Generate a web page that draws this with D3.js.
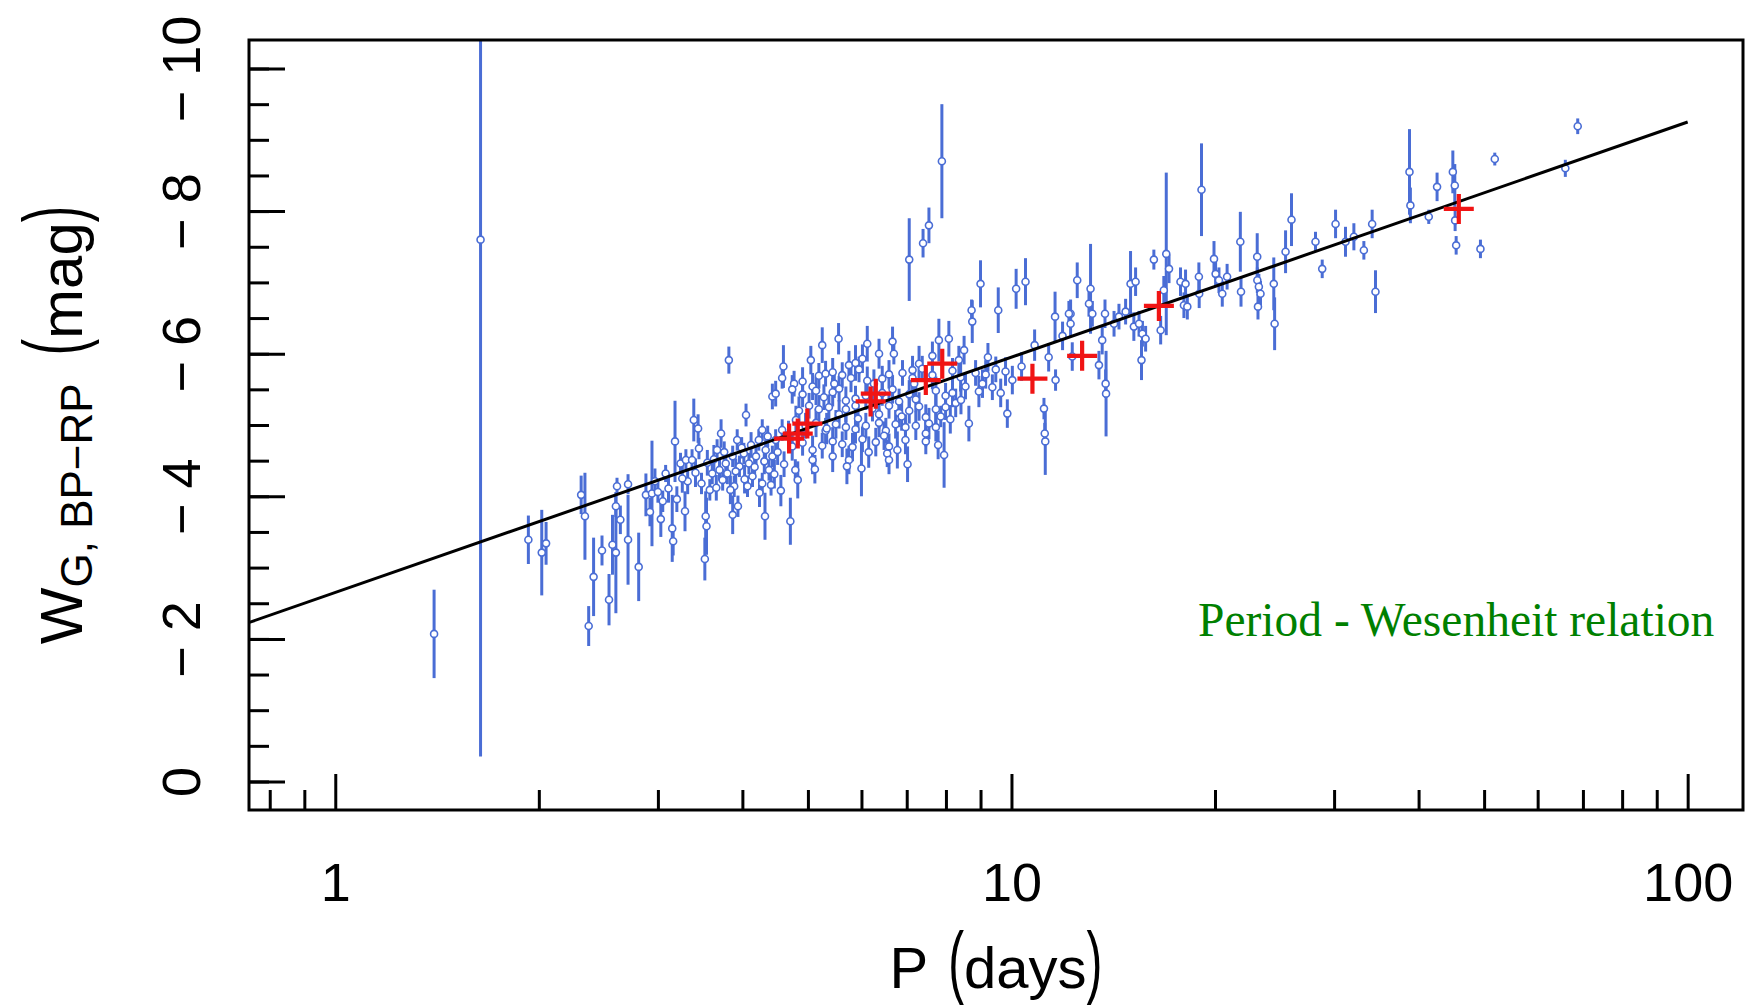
<!DOCTYPE html>
<html>
<head>
<meta charset="utf-8">
<script src="https://cdn.jsdelivr.net/npm/d3@7"></script>
<style>
  body { margin: 0; background: #fff; }
  svg { display: block; }
</style>
</head>
<body>
<svg id="chart"></svg>
<script>
// Cepheids: [period (days), W_G,BP-RP (mag), error (mag)]
const cepheids = [
  [1.40, -2.07, 0.62], [1.64, -7.60, 7.25],
  [1.93, -3.39, 0.34], [2.02, -3.21, 0.60], [2.05, -3.34, 0.30], [2.31, -4.02, 0.27],
  [2.34, -3.72, 0.61], [2.41, -2.87, 0.55], [2.37, -2.18, 0.28], [2.48, -3.24, 0.21],
  [2.54, -2.55, 0.36], [2.57, -3.32, 0.42], [2.60, -3.21, 0.85], [2.60, -3.86, 0.15],
  [2.61, -4.14, 0.12], [2.64, -3.67, 0.20], [2.71, -3.39, 0.63], [2.71, -4.17, 0.14],
  [2.81, -3.01, 0.48], [2.88, -4.02, 0.30], [2.94, -4.04, 0.74], [3.00, -4.06, 0.15],
  [3.05, -3.93, 0.15], [3.08, -4.32, 0.12], [3.15, -3.55, 0.47], [3.16, -3.37, 0.20],
  [3.18, -4.77, 0.57], [3.24, -4.46, 0.15], [3.30, -4.51, 0.15], [3.29, -3.79, 0.28],
  [3.39, -5.07, 0.30], [3.44, -4.95, 0.20], [3.45, -4.67, 0.15], [3.37, -4.51, 0.15],
  [3.53, -3.72, 0.35], [3.54, -3.58, 0.40], [3.52, -3.12, 0.30], [3.58, -4.09, 0.15],
  [3.67, -4.65, 0.15], [3.72, -4.88, 0.20], [3.61, -4.32, 0.15], [3.70, -4.37, 0.15],
  [3.74, -4.23, 0.15], [3.80, -4.32, 0.15], [3.87, -4.56, 0.15], [3.89, -4.14, 0.15],
  [3.93, -4.79, 0.15], [3.87, -3.74, 0.27], [3.94, -3.86, 0.15], [4.05, -5.14, 0.16],
  [4.02, -4.60, 0.15], [4.09, -4.46, 0.15], [4.14, -4.28, 0.15], [4.19, -4.56, 0.15],
  [4.23, -4.79, 0.15], [4.28, -4.93, 0.15], [4.33, -4.65, 0.15], [4.38, -4.37, 0.15],
  [4.32, -3.72, 0.33], [4.41, -4.16, 0.15], [4.43, -5.40, 0.18], [4.48, -5.44, 0.18],
  [4.71, -3.65, 0.33], [4.58, -4.93, 0.15], [3.82, -5.91, 0.19],
  [3.78, -4.46, 0.15], [3.96, -4.42, 0.15], [4.07, -4.14, 0.15], [4.28, -4.18, 0.15],
  [4.48, -4.79, 0.15], [4.79, -4.37, 0.15], [4.43, -4.56, 0.15],
  [3.32, -4.21, 0.18], [3.41, -4.33, 0.20], [3.48, -4.18, 0.15], [3.55, -4.47, 0.18],
  [3.63, -4.52, 0.20], [3.66, -4.12, 0.18], [3.76, -4.62, 0.15], [3.84, -4.09, 0.20],
  [3.91, -4.35, 0.18], [3.99, -4.68, 0.15], [4.03, -4.24, 0.20], [4.12, -4.72, 0.18],
  [4.17, -4.41, 0.15], [4.24, -4.05, 0.20], [4.31, -4.49, 0.18], [4.36, -4.84, 0.15],
  [4.46, -4.31, 0.20], [4.51, -4.62, 0.18], [4.56, -4.08, 0.22], [4.61, -4.45, 0.18],
  [4.68, -4.86, 0.20], [2.92, -3.78, 0.20], [2.97, -4.21, 0.18], [3.03, -3.68, 0.25],
  [3.11, -4.11, 0.20], [3.20, -3.96, 0.18], [3.26, -4.25, 0.20],
  [7.06, -7.32, 0.58], [7.40, -7.55, 0.20], [7.55, -7.80, 0.25], [7.89, -8.70, 0.80],
  [5.25, -6.12, 0.25], [5.55, -6.21, 0.22], [6.12, -6.14, 0.25], [6.37, -6.00, 0.21],
  [6.67, -6.17, 0.21], [6.70, -6.00, 0.15], [9.00, -6.98, 0.33], [8.73, -6.61, 0.15],
  [8.75, -6.45, 0.30], [9.56, -6.61, 0.32], [10.16, -6.91, 0.28], [10.49, -7.01, 0.33],
  [11.60, -6.52, 0.35], [12.23, -6.56, 0.20], [12.51, -7.03, 0.25], [4.58, -5.66, 0.15],
  [4.60, -5.82, 0.30], [4.83, -4.23, 0.26], [5.08, -5.54, 0.19], [6.00, -4.39, 0.39],
  [6.55, -4.60, 0.19], [6.78, -4.65, 0.26], [7.95, -4.58, 0.46], [7.86, -5.12, 0.15],
  [8.65, -5.02, 0.25], [9.86, -5.16, 0.20], [11.17, -5.23, 0.15], [11.20, -4.88, 0.15],
  [11.22, -4.77, 0.47], [11.62, -5.63, 0.15], [12.30, -5.96, 0.20],
  [5.05, -5.91, 0.20], [5.75, -5.84, 0.20], [5.88, -5.87, 0.25], [6.02, -5.93, 0.20],
  [7.14, -5.77, 0.20], [7.30, -5.86, 0.25], [7.64, -5.97, 0.20], [7.81, -6.19, 0.30],
  [8.08, -6.21, 0.25], [8.36, -5.91, 0.20], [8.51, -6.05, 0.20],
  [4.77, -5.58, 0.18], [4.91, -5.61, 0.20], [5.19, -5.69, 0.18],
  [5.31, -5.72, 0.18], [5.44, -5.74, 0.20], [5.62, -5.70, 0.18], [5.79, -5.66, 0.20],
  [5.95, -5.78, 0.18], [6.12, -5.62, 0.20], [6.44, -5.65, 0.18], [6.59, -5.71, 0.20],
  [6.90, -5.73, 0.18], [7.14, -5.66, 0.20], [7.38, -5.79, 0.18], [7.64, -5.70, 0.20],
  [8.18, -5.76, 0.18], [8.41, -5.67, 0.20], [8.85, -5.73, 0.18], [9.16, -5.71, 0.20],
  [9.48, -5.78, 0.18], [9.80, -5.75, 0.20],
  [4.74, -5.50, 0.20], [4.91, -5.43, 0.18], [5.14, -5.48, 0.20],
  [5.28, -5.39, 0.18], [5.44, -5.46, 0.20], [5.56, -5.51, 0.18], [5.69, -5.34, 0.20],
  [5.88, -5.37, 0.18], [6.09, -5.41, 0.20], [6.44, -5.45, 0.18], [6.67, -5.50, 0.20],
  [6.82, -5.33, 0.18], [7.06, -5.43, 0.20], [7.22, -5.36, 0.18], [7.73, -5.48, 0.20],
  [7.99, -5.41, 0.18], [8.18, -5.45, 0.20], [8.55, -5.54, 0.18], [9.06, -5.58, 0.20],
  [9.37, -5.53, 0.18], [10.03, -5.63, 0.20],
  [4.85, -5.20, 0.20], [5.02, -5.27, 0.18], [5.19, -5.22, 0.20],
  [5.37, -5.25, 0.18], [5.56, -5.15, 0.20], [5.69, -5.22, 0.18], [5.88, -5.27, 0.20],
  [6.23, -5.23, 0.18], [6.37, -5.15, 0.20], [6.59, -5.27, 0.18], [6.82, -5.17, 0.20],
  [7.06, -5.20, 0.18], [7.30, -5.26, 0.20], [7.47, -5.11, 0.18], [7.73, -5.22, 0.20],
  [7.99, -5.25, 0.18], [8.27, -5.31, 0.20],
  [4.80, -5.07, 0.20], [4.96, -4.99, 0.18], [5.14, -5.03, 0.20],
  [5.31, -4.92, 0.18], [5.50, -5.01, 0.20], [5.69, -4.97, 0.18], [5.88, -4.94, 0.20],
  [6.09, -4.99, 0.18], [6.37, -5.03, 0.20], [6.52, -4.92, 0.18], [6.74, -5.01, 0.20],
  [6.97, -4.97, 0.18], [7.22, -4.99, 0.20], [7.47, -4.88, 0.18], [7.73, -4.97, 0.20],
  [4.74, -4.70, 0.20], [4.91, -4.75, 0.18], [5.08, -4.65, 0.20], [5.25, -4.71, 0.18],
  [5.44, -4.77, 0.20], [5.62, -4.73, 0.18], [5.82, -4.69, 0.20], [6.02, -4.80, 0.18],
  [6.30, -4.76, 0.20], [6.59, -4.70, 0.18], [6.97, -4.79, 0.20], [7.47, -4.77, 0.18],
  [5.08, -4.51, 0.20], [5.44, -4.56, 0.22], [5.75, -4.51, 0.20], [6.59, -4.51, 0.20],
  [5.12, -4.38, 0.20], [5.33, -4.95, 0.22], [5.47, -5.58, 0.20], [5.71, -4.42, 0.25],
  [5.93, -5.09, 0.20], [6.15, -4.62, 0.22], [6.26, -5.58, 0.20], [6.48, -4.85, 0.20],
  [6.88, -5.12, 0.20], [7.02, -4.45, 0.25], [7.18, -5.58, 0.20], [7.55, -5.02, 0.22],
  [7.79, -4.72, 0.20], [8.12, -5.08, 0.20], [8.42, -5.35, 0.20], [8.95, -5.47, 0.22],
  [9.23, -5.95, 0.20], [9.64, -5.45, 0.20], [10.35, -5.82, 0.20], [10.82, -6.12, 0.22],
  [11.35, -5.95, 0.20], [11.90, -6.25, 0.20],
  [12.16, -6.56, 0.18], [12.23, -6.42, 0.18], [13.09, -6.91, 0.63], [13.02, -6.70, 0.18],
  [13.17, -6.56, 0.18], [13.47, -5.84, 0.20], [13.78, -5.58, 0.20], [13.80, -5.44, 0.60],
  [13.62, -6.19, 0.20], [13.75, -6.56, 0.20], [14.18, -6.42, 0.18], [14.42, -6.52, 0.18],
  [14.75, -6.59, 0.18], [15.00, -6.98, 0.46], [15.26, -7.01, 0.20], [15.17, -6.38, 0.20],
  [15.44, -6.42, 0.18], [15.62, -6.28, 0.18], [15.79, -6.21, 0.18], [15.57, -5.91, 0.28],
  [16.24, -7.32, 0.14], [16.62, -6.33, 0.20], [16.94, -7.40, 1.14], [17.10, -7.19, 0.20],
  [16.80, -6.89, 0.20], [17.78, -7.01, 0.20], [18.09, -6.98, 0.20], [17.99, -6.68, 0.18],
  [18.20, -6.66, 0.18], [19.10, -8.30, 0.65], [18.93, -7.08, 0.20], [18.95, -6.84, 0.20],
  [19.93, -7.33, 0.25], [20.04, -7.12, 0.18], [20.27, -7.03, 0.18], [20.50, -6.84, 0.18],
  [20.84, -7.08, 0.18], [21.80, -7.57, 0.42], [21.85, -6.87, 0.21], [23.09, -7.36, 0.33],
  [23.10, -7.03, 0.18], [23.22, -6.94, 0.18], [23.35, -6.84, 0.18], [23.15, -6.66, 0.18],
  [24.43, -6.98, 0.37], [24.50, -6.42, 0.37], [25.43, -7.43, 0.30], [25.95, -7.88, 0.37],
  [28.16, -7.57, 0.14], [28.81, -7.19, 0.13], [30.15, -7.82, 0.20], [31.19, -7.57, 0.21],
  [32.09, -7.64, 0.19], [33.20, -7.45, 0.13], [34.15, -7.82, 0.20], [34.54, -6.87, 0.30],
  [38.78, -8.55, 0.60], [38.90, -8.08, 0.25], [41.41, -7.92, 0.10], [42.60, -8.34, 0.20],
  [44.95, -8.55, 0.30], [45.25, -8.36, 0.30], [45.30, -7.87, 0.15], [45.46, -7.52, 0.13],
  [49.38, -7.47, 0.13], [51.85, -8.73, 0.09], [65.93, -8.60, 0.12], [68.77, -9.19, 0.11]
];

// red crosses: [period (days), W (mag)]
const redCrosses = [
  [4.69, -4.81], [4.83, -4.88], [4.99, -5.02], [6.19, -5.33], [6.30, -5.44],
  [7.47, -5.63], [7.90, -5.86], [10.74, -5.65], [12.72, -5.97], [16.52, -6.67], [45.87, -8.03]
];

// fitted PW relation, end points
const fitP = [0.7, 100];
const fitW = [-2.14, -9.25];

const xLim = [0.9, 100];
const yLim = [0, -10];
const xMajorTicks = [1, 10, 100];
const xMinorTicks = [0.8, 0.9, 2, 3, 4, 5, 6, 7, 8, 9, 20, 30, 40, 50, 60, 70, 80, 90];
const yMajorTicks = [0, -2, -4, -6, -8, -10];
const yMinorTicks = d3.range(0, -10.5, -0.5);

const width = 1745, height = 1007;
const frame = { left: 249, top: 40, right: 1743, bottom: 810 };
const sans = "'Liberation Sans', Arial, Helvetica, sans-serif";
const blue = "#4a6dd5";

const svg = d3.select("#chart")
    .attr("width", width)
    .attr("height", height);

svg.append("rect")
    .attr("width", width)
    .attr("height", height)
    .attr("fill", "#fff");

// R style 4% axis extension
const lx0 = Math.log10(xLim[0]), lx1 = Math.log10(xLim[1]);
const padX = (lx1 - lx0) * 0.04;
const xScale = d3.scaleLog()
    .domain([Math.pow(10, lx0 - padX), Math.pow(10, lx1 + padX)])
    .range([frame.left, frame.right]);

const padY = (yLim[0] - yLim[1]) * 0.04;
const yScale = d3.scaleLinear()
    .domain([yLim[0] + padY, yLim[1] - padY])
    .range([frame.bottom, frame.top]);

svg.append("clipPath")
    .attr("id", "plotClip")
    .append("rect")
    .attr("x", frame.left)
    .attr("y", frame.top)
    .attr("width", frame.right - frame.left)
    .attr("height", frame.bottom - frame.top);

const plot = svg.append("g").attr("clip-path", "url(#plotClip)");

// error bars
plot.selectAll(".ebar")
    .data(cepheids)
    .enter().append("line")
    .attr("class", "ebar")
    .attr("x1", d => xScale(d[0]))
    .attr("x2", d => xScale(d[0]))
    .attr("y1", d => yScale(d[1] - d[2]))
    .attr("y2", d => yScale(d[1] + d[2]))
    .attr("stroke", blue)
    .attr("stroke-width", 3);

plot.selectAll(".pt")
    .data(cepheids)
    .enter().append("circle")
    .attr("class", "pt")
    .attr("cx", d => xScale(d[0]))
    .attr("cy", d => yScale(d[1]))
    .attr("r", 3.5)
    .attr("fill", "#fff")
    .attr("stroke", blue)
    .attr("stroke-width", 1.6);

// fit line
const fitLine = d3.line()
    .x(d => xScale(d[0]))
    .y(d => yScale(d[1]));

plot.append("path")
    .datum(fitP.map((p, i) => [p, fitW[i]]))
    .attr("d", fitLine)
    .attr("fill", "none")
    .attr("stroke", "#000")
    .attr("stroke-width", 3);

// red crosses
const arm = 15;
plot.selectAll(".cross")
    .data(redCrosses)
    .enter().append("path")
    .attr("class", "cross")
    .attr("d", d => {
        const cx = xScale(d[0]), cy = yScale(d[1]);
        return "M" + (cx - arm) + "," + cy + "H" + (cx + arm) + "M" + cx + "," + (cy - arm) + "V" + (cy + arm);
    })
    .attr("stroke", "#f01414")
    .attr("stroke-width", 4.2)
    .attr("fill", "none");

// axes
const fmtY = d => d < 0 ? "\u2212 " + Math.abs(d) : String(d);

function styleAxis(g) {
    g.select(".domain").remove();
    g.selectAll(".tick line").attr("stroke", "#000").attr("stroke-width", 3);
    g.attr("font-family", sans).attr("font-size", 54);
    g.selectAll(".tick text").attr("fill", "#000");
}

const gyMinor = svg.append("g")
    .attr("transform", "translate(" + frame.left + ",0)")
    .call(d3.axisLeft(yScale).tickValues(yMinorTicks).tickSizeInner(-20).tickSizeOuter(0).tickFormat(""));
styleAxis(gyMinor);

const gy = svg.append("g")
    .attr("transform", "translate(" + frame.left + ",0)")
    .call(d3.axisLeft(yScale).tickValues(yMajorTicks).tickSizeInner(-36).tickSizeOuter(0).tickFormat(fmtY));
styleAxis(gy);
gy.selectAll(".tick text")
    .attr("x", 0)
    .attr("dy", 0)
    .attr("text-anchor", "middle")
    .attr("transform", "translate(-49,0) rotate(-90)");

const gxMinor = svg.append("g")
    .attr("transform", "translate(0," + frame.bottom + ")")
    .call(d3.axisBottom(xScale).tickValues(xMinorTicks).tickSizeInner(-20).tickSizeOuter(0).tickFormat(""));
styleAxis(gxMinor);

const gx = svg.append("g")
    .attr("transform", "translate(0," + frame.bottom + ")")
    .call(d3.axisBottom(xScale).tickValues(xMajorTicks).tickSizeInner(-36).tickSizeOuter(0).tickFormat(d3.format("d")));
styleAxis(gx);
gx.selectAll(".tick text")
    .attr("y", 91)
    .attr("dy", 0);

// frame box
svg.append("rect")
    .attr("x", frame.left)
    .attr("y", frame.top)
    .attr("width", frame.right - frame.left)
    .attr("height", frame.bottom - frame.top)
    .attr("fill", "none")
    .attr("stroke", "#000")
    .attr("stroke-width", 3);

// plotmath-like labels: pieces laid side by side, tall thin parentheses
function mathLabel(parent, parts) {
    const inner = parent.append("g");
    let x = 0;
    parts.forEach(p => {
        const t = inner.append("text")
            .text(p.text)
            .attr("font-family", sans)
            .attr("font-size", p.size)
            .attr("fill", "#000");
        const w = t.node().getComputedTextLength();
        if (p.paren) {
            t.attr("transform", "translate(" + x + ",0) scale(0.82,1.38)");
            x += w * 0.82;
        } else {
            t.attr("x", x).attr("y", p.dy || 0);
            x += w;
        }
        x += p.gap || 0;
    });
    inner.attr("transform", "translate(" + (-x / 2) + ",0)");
}

const xTitle = svg.append("g")
    .attr("transform", "translate(" + ((frame.left + frame.right) / 2) + ",988)");
mathLabel(xTitle, [
    { text: "P", size: 58, gap: 20 },
    { text: "(", size: 58, paren: true },
    { text: "days", size: 58 },
    { text: ")", size: 58, paren: true }
]);

const yTitle = svg.append("g")
    .attr("transform", "translate(82," + ((frame.top + frame.bottom) / 2) + ") rotate(-90)");
mathLabel(yTitle, [
    { text: "W", size: 60 },
    { text: "G, BP\u2212RP", size: 44, dy: 10, gap: 28 },
    { text: "(", size: 60, paren: true },
    { text: "mag", size: 60 },
    { text: ")", size: 60, paren: true }
]);

svg.append("text")
    .attr("x", 1198)
    .attr("y", 636)
    .attr("font-family", "'Liberation Serif', 'Times New Roman', serif")
    .attr("font-size", 47.5)
    .attr("fill", "#008000")
    .text("Period - Wesenheit relation");
</script>
</body>
</html>
